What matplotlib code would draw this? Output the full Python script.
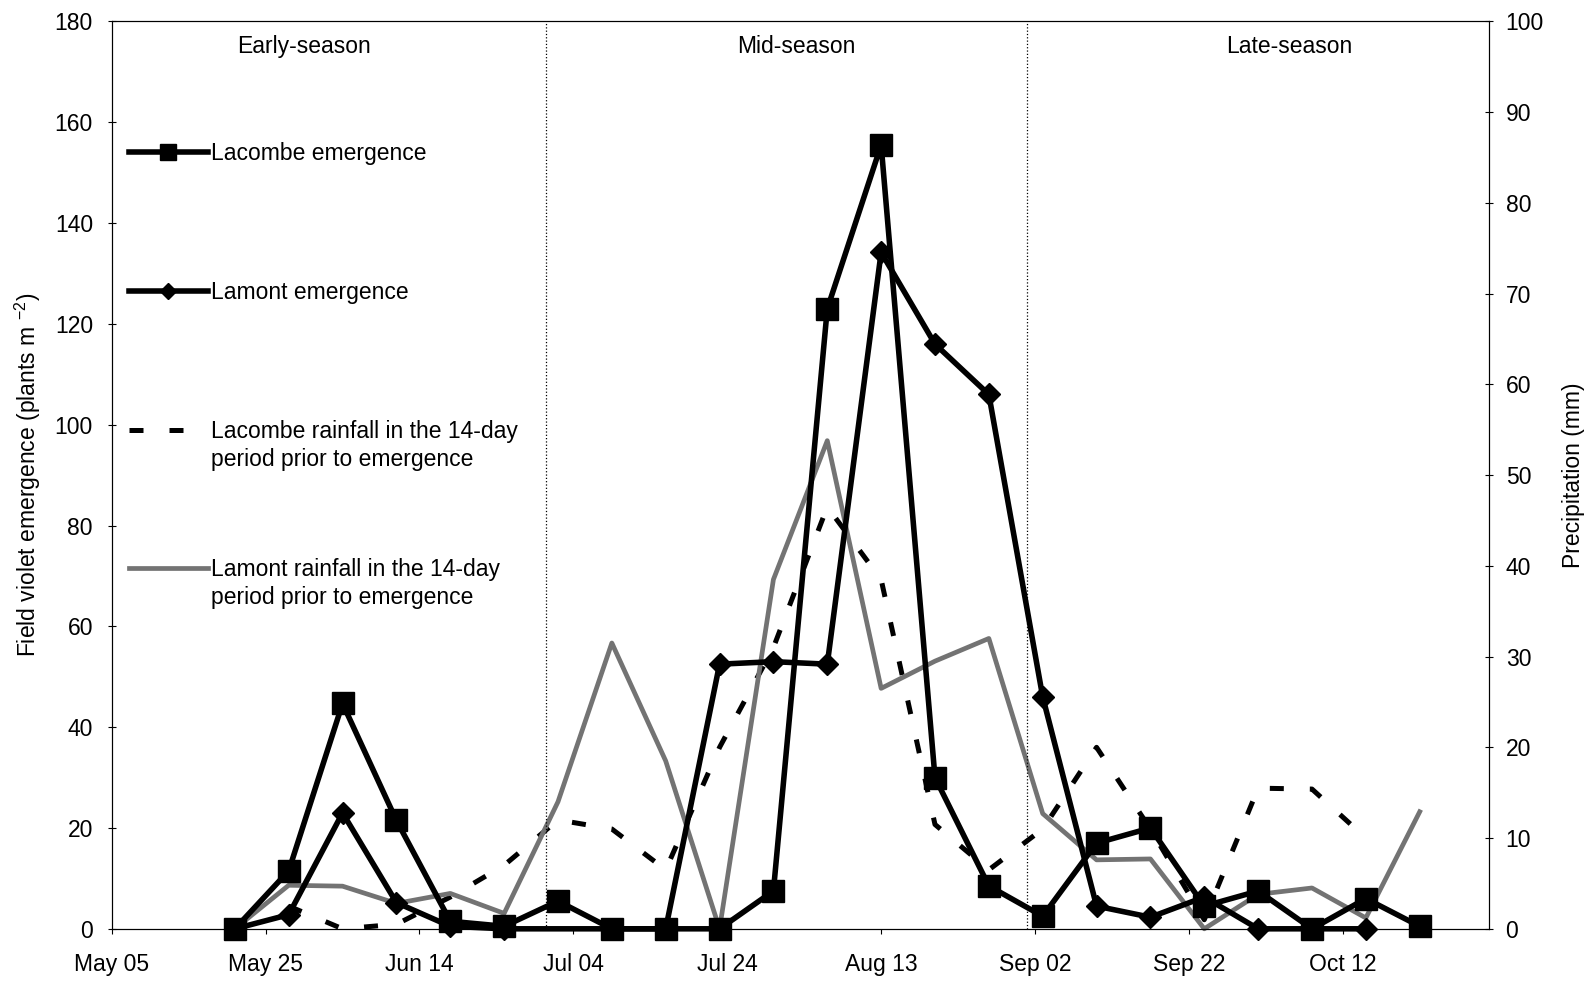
import numpy as np
import pandas as pd
import matplotlib
matplotlib.use("Agg")
import matplotlib.pyplot as plt

plt.rcParams['font.family'] = ['Liberation Sans', 'DejaVu Sans']
plt.rcParams['font.size'] = 16.5
plt.rcParams['mathtext.fontset'] = 'custom'
plt.rcParams['mathtext.rm'] = 'Liberation Sans'

# weekly sampling dates
fechas = pd.to_datetime([
    '2001-05-21', '2001-05-28', '2001-06-04', '2001-06-11', '2001-06-18', '2001-06-25',
    '2001-07-02', '2001-07-09', '2001-07-16', '2001-07-23', '2001-07-30', '2001-08-06',
    '2001-08-13', '2001-08-20', '2001-08-27', '2001-09-03', '2001-09-10', '2001-09-17',
    '2001-09-24', '2001-10-01', '2001-10-08', '2001-10-15', '2001-10-22'])

# emergence (plants m-2)
lacombe_emergencia = [0, 11.5, 44.7, 21.5, 1.5, 0.5, 5.5, 0, 0, 0, 7.5, 123, 155.5,
                      30, 8.5, 2.5, 17, 20, 4.5, 7.5, 0, 6, 0.5]
lamont_emergencia = [0, 2.8, 23, 5.2, 0.5, 0, np.nan, 0, 0, 52.5, 53, 52.5, 134.2,
                     116, 106, 46, 4.5, 2.3, 6.3, 0, 0, 0, np.nan]

# rainfall in the 14 days before each date (mm)
lacombe_lluvia = [np.nan, 2.5, 0, 0.5, 3.5, 7, 12, 11, 6.5, 20, 31, 46.5, 38.5,
                  11.5, 6.5, 11, 20, 11, 1, 15.5, 15.4, 10, np.nan]
lamont_lluvia = [0, 4.8, 4.7, 2.8, 3.9, 1.7, 14, 31.5, 18.5, 0, 38.5, 53.8, 26.5,
                 29.5, 32, 12.7, 7.6, 7.7, 0, 3.8, 4.5, 1.2, 12.9]

# season limits and labels
limites_temporada = pd.to_datetime(['2001-06-30 12:00', '2001-09-01 00:00'])
temporadas = ['Early-season', 'Mid-season', 'Late-season']
pos_temporadas = pd.to_datetime(['2001-05-30', '2001-08-02', '2001-10-05'])

inicio = pd.Timestamp('2001-05-05')
marcas_x = pd.date_range(inicio, periods=9, freq='20D')


def serie(valores):
    # drop missing weeks so the line stays connected
    v = np.array(valores, dtype=float)
    ok = ~np.isnan(v)
    return fechas[ok], v[ok]


fig = plt.figure(figsize=(15.94, 9.81), dpi=100)
ax = fig.add_axes([0.0701, 0.0532, 0.864, 0.9249])
ax2 = ax.twinx()
# emergence lines go above the rainfall lines
ax.set_zorder(ax2.get_zorder() + 1)
ax.patch.set_visible(False)

l3, = ax2.plot(*serie(lacombe_lluvia), color='black', lw=3.6, dashes=(2.8, 5.2),
               clip_on=False)
l4, = ax2.plot(*serie(lamont_lluvia), color='#737373', lw=3.4, clip_on=False)

l1, = ax.plot(*serie(lacombe_emergencia), color='black', lw=4.0, marker='s',
              markersize=16, clip_on=False)
l2, = ax.plot(*serie(lamont_emergencia), color='black', lw=4.0, marker='D',
              markersize=11.5, clip_on=False)

for lim in limites_temporada:
    ax.axvline(lim, color='black', ls=':', lw=0.9)

for txt, xp in zip(temporadas, pos_temporadas):
    ax.text(xp, 175, txt, ha='center', va='center')

ax.set_xlim(inicio, inicio + pd.Timedelta(days=179))
ax.set_ylim(0, 180)
ax2.set_ylim(0, 100)
ax.set_yticks(np.arange(0, 181, 20))
ax2.set_yticks(np.arange(0, 101, 10))
ax.set_xticks(marcas_x)
ax.set_xticklabels([d.strftime('%b %d') for d in marcas_x])

ax.tick_params(axis='y', direction='inout', length=6, pad=10.5)
ax.tick_params(axis='x', direction='out', length=3.6, pad=14)
ax2.tick_params(axis='y', direction='inout', length=6, pad=9)

ax.set_ylabel(r'Field violet emergence (plants m $^{\mathregular{-2}}$)')
ax.yaxis.set_label_coords(-0.050, 0.5)
ax2.set_ylabel('Precipitation (mm)')
ax2.yaxis.set_label_coords(1.053, 0.5)

# legend, one line per entry; second line of the rainfall labels added below
etiquetas = ['Lacombe emergence', 'Lamont emergence',
             'Lacombe rainfall in the 14-day', 'Lamont rainfall in the 14-day']
leg = ax.legend([l1, l2, l3, l4], etiquetas, loc='upper left',
                bbox_to_anchor=(0.0125, 0.867), frameon=False, borderpad=0,
                borderaxespad=0, handlelength=3.45, handletextpad=0.12,
                labelspacing=5.05, markerscale=0.75)
for t in leg.get_texts()[2:]:
    ax.annotate('period prior to emergence', xy=(0, 0), xycoords=t,
                xytext=(0, -23), textcoords='offset pixels',
                va='baseline', ha='left', zorder=6)

fig.savefig('out.png', dpi=100)
